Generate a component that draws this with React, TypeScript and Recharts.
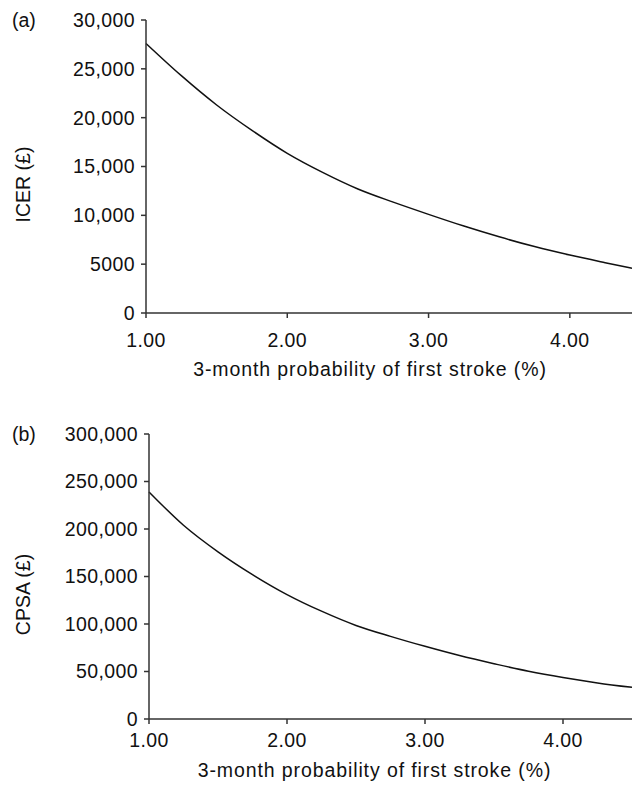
import { LineChart, Line, XAxis, YAxis, Label } from "recharts";

// values
const probTop = [1, 1.25, 1.5, 1.75, 2, 2.25, 2.5, 2.75, 3, 3.25, 3.5, 3.75, 4, 4.25, 4.44];
const icer = [27600, 24300, 21300, 18700, 16350, 14400, 12700, 11350, 10100, 8900, 7800, 6800, 5930, 5150, 4580];

const probBottom = [1, 1.25, 1.5, 1.75, 2, 2.25, 2.5, 2.75, 3, 3.25, 3.5, 3.75, 4, 4.25, 4.5];
const cpsa = [239000, 204000, 176000, 152000, 131000, 113500, 98500, 87000, 76500, 66800, 58200, 50200, 43600, 38000, 33300];

const xTicks = [1, 2, 3, 4];
const icerTicks = [0, 5000, 10000, 15000, 20000, 25000, 30000];
const cpsaTicks = [0, 50000, 100000, 150000, 200000, 250000, 300000];

const xTitle = "3-month probability of first stroke (%)";

const topData = probTop.map((p, i) => ({ p, v: icer[i] }));
const bottomData = probBottom.map((p, i) => ({ p, v: cpsa[i] }));

const FONT = "'Liberation Sans', Arial, Helvetica, sans-serif";
const FS = 19.5;
const INK = "#111";
const AXIS = "#333";

const tickStyle = { fill: INK, fontSize: FS, fontFamily: FONT, letterSpacing: 0.4 };

const fmtY = (v: number) => (v >= 10000 ? v.toLocaleString("en-US") : String(v));
const fmtX = (v: number) => v.toFixed(2);

function yTitle(text: string) {
  return ({ viewBox }: any) => {
    const cx = viewBox.x + 23;
    const cy = viewBox.y + viewBox.height / 2 + 18;
    return (
      <text
        x={cx}
        y={cy}
        transform={`rotate(-90, ${cx}, ${cy})`}
        textAnchor="middle"
        dominantBaseline="central"
        fill={INK}
        fontSize={FS}
        fontFamily={FONT}
      >
        {text}
      </text>
    );
  };
}

function panelTag(text: string) {
  return ({ viewBox }: any) => (
    <text
      x={12}
      y={viewBox.y}
      dominantBaseline="central"
      fill={INK}
      fontSize={FS}
      fontFamily={FONT}
    >
      {text}
    </text>
  );
}

interface PanelProps {
  data: { p: number; v: number }[];
  xMax: number;
  yTicks: number[];
  yMax: number;
  yLabel: string;
  tag: string;
  height: number;
  top: number;
  plotH: number;
  yAxisW: number;
  tickGap: number;
  titleDx: number;
  titleOffset: number;
}

function Panel(props: PanelProps) {
  const { data, xMax, yTicks, yMax, yLabel, tag, height, top, plotH, yAxisW, tickGap, titleDx, titleOffset } = props;
  return (
    <LineChart
      width={632}
      height={height}
      data={data}
      margin={{ top, right: 0, bottom: 0, left: 0 }}
    >
      <XAxis
        dataKey="p"
        type="number"
        domain={[1, xMax]}
        ticks={xTicks}
        tickFormatter={fmtX}
        height={height - top - plotH}
        stroke={AXIS}
        strokeWidth={1.5}
        tickSize={5}
        tickMargin={tickGap}
        tick={tickStyle}
        tickLine={{ stroke: AXIS, strokeWidth: 1.5 }}
      >
        <Label
          value={xTitle}
          position="insideTop"
          offset={titleOffset}
          dx={titleDx}
          fill={INK}
          fontSize={FS}
          fontFamily={FONT}
          letterSpacing={0.9}
        />
      </XAxis>
      <YAxis
        dataKey="v"
        type="number"
        domain={[0, yMax]}
        ticks={yTicks}
        tickFormatter={fmtY}
        width={yAxisW}
        stroke={AXIS}
        strokeWidth={1.5}
        tickSize={5}
        tickMargin={6}
        tick={tickStyle}
        tickLine={{ stroke: AXIS, strokeWidth: 1.5 }}
        interval={0}
      >
        <Label content={yTitle(yLabel)} />
        <Label content={panelTag(tag)} />
      </YAxis>
      <Line
        dataKey="v"
        type="monotone"
        stroke={INK}
        strokeWidth={1.5}
        dot={false}
        activeDot={false}
        isAnimationActive={false}
      />
    </LineChart>
  );
}

export default function App() {
  return (
    <div
      style={{
        position: "absolute",
        left: 0,
        top: 0,
        width: 632,
        height: 785,
        background: "#fff",
        fontFamily: FONT,
      }}
    >
      <Panel
        data={topData}
        xMax={4.44}
        yTicks={icerTicks}
        yMax={30000}
        yLabel="ICER (£)"
        tag="(a)"
        height={400}
        top={20}
        plotH={293}
        yAxisW={146}
        tickGap={15}
        titleDx={-19}
        titleOffset={49}
      />
      <Panel
        data={bottomData}
        xMax={4.5}
        yTicks={cpsaTicks}
        yMax={300000}
        yLabel="CPSA (£)"
        tag="(b)"
        height={385}
        top={34}
        plotH={285}
        yAxisW={149}
        tickGap={9}
        titleDx={-16}
        titleOffset={44}
      />
    </div>
  );
}
